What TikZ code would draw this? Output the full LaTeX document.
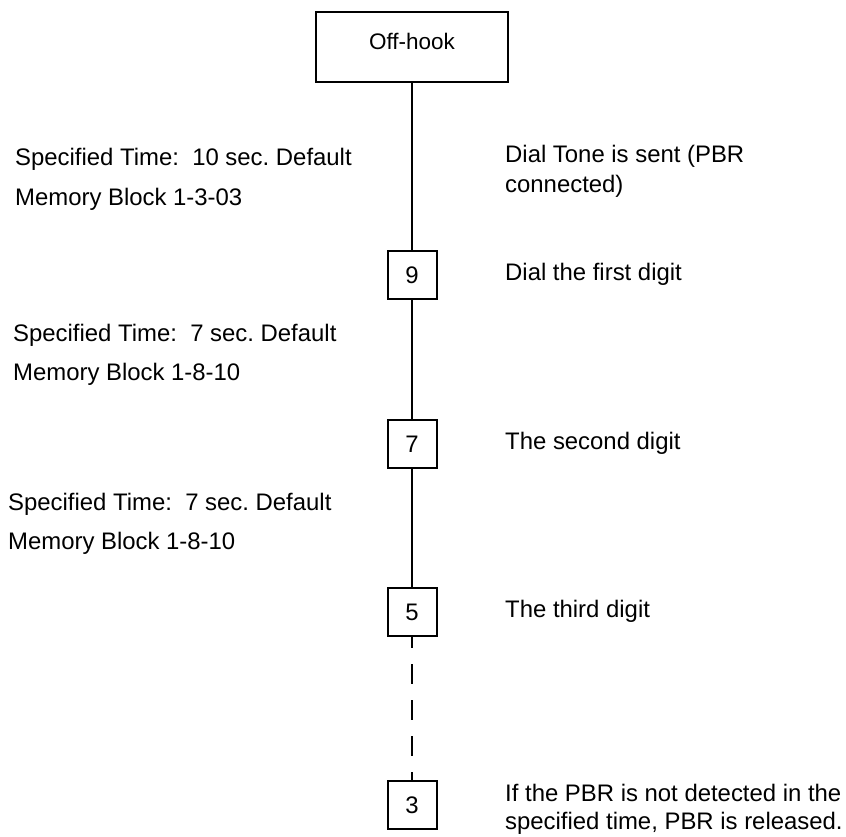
\documentclass[tikz,border=0pt]{standalone}
\usepackage{fontspec}
\setmainfont{Liberation Sans}
\frenchspacing
\begin{document}
\begin{tikzpicture}[x=1pt,y=-1pt,
  txt/.style={anchor=base west,inner sep=0pt,font=\fontsize{23.9}{27}\selectfont},
  digitbox/.style={draw,line width=2pt,minimum width=49pt,minimum height=48pt,inner sep=0pt,font=\fontsize{23.9}{27}\selectfont},
  link/.style={line width=2pt},
  dlink/.style={line width=2pt,dash pattern=on 20pt off 16pt,dash phase=9pt}]
\useasboundingbox (0,0) rectangle (846,837);
\node[draw,line width=2pt,minimum width=192pt,minimum height=70pt,inner sep=0pt,
  text height=16pt,text depth=10pt,font=\fontsize{22.5}{26}\selectfont] (off) at (412,47) {Off-hook};
\node[digitbox] (d9) at (412,275) {9};
\node[digitbox] (d7) at (412,444) {7};
\node[digitbox] (d5) at (412,612) {5};
\node[digitbox] (d3) at (412,805) {3};
\draw[link] (off.south) -- (d9.north);
\draw[link] (d9.south) -- (d7.north);
\draw[link] (d7.south) -- (d5.north);
\draw[dlink] (d5.south) -- (d3.north);
% left texts
\node[txt] (l1a) at (15,166) {Specified Time:~ 10 sec. Default};
\node[txt] (l1b) at (15,206) {Memory Block 1-3-03};
\node[txt] (l2a) at (13,341) {Specified Time:~ 7 sec. Default};
\node[txt] (l2b) at (13,380) {Memory Block 1-8-10};
\node[txt] (l3a) at (8,510) {Specified Time:~ 7 sec. Default};
\node[txt] (l3b) at (8,549) {Memory Block 1-8-10};
% right texts
\node[txt] (r1a) at (505,163) {Dial Tone is sent (PBR};
\node[txt] (r1b) at (505,193) {connected)};
\node[txt] (r2) at (505,280) {Dial the first digit};
\node[txt] (r3) at (505,449) {The second digit};
\node[txt] (r4) at (505,617) {The third digit};
\node[txt] (r5a) at (505,801) {If the PBR is not detected in the};
\node[txt] (r5b) at (505,829) {specified time, PBR is released.};
\end{tikzpicture}
\end{document}
